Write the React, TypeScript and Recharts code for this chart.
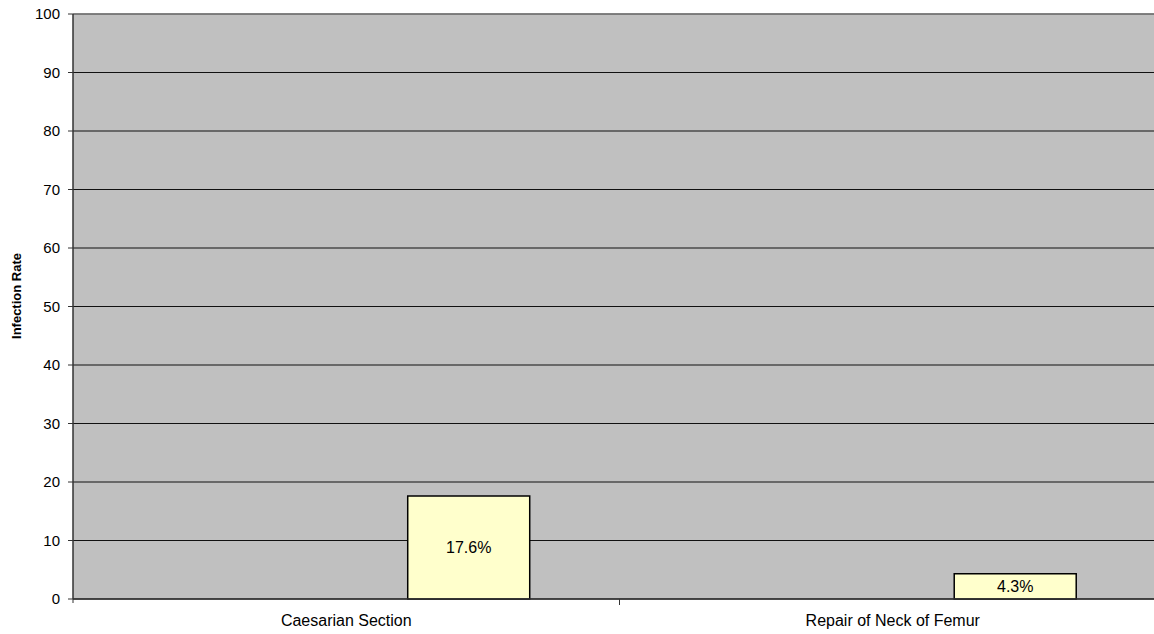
import React from 'react';
import { Bar, BarChart, CartesianGrid, LabelList, ReferenceLine, XAxis, YAxis } from 'recharts';

// the picture only shows the third series; the first two hold no data
const categories = ['Caesarian Section', 'Repair of Neck of Femur'];
const seriesA = [null, null];
const seriesB = [null, null];
const infectionRate = [17.6, 4.3];
const yTicks = [0, 10, 20, 30, 40, 50, 60, 70, 80, 90, 100];

const data = categories.map((name, i) => ({
  a: seriesA[i],
  b: seriesB[i],
  name,
  rate: infectionRate[i]
}));

const XTick = (props: any) => {
  const { x, y, payload, index } = props;
  const half = payload.offset || 0;

  return (
    <g>
      <line stroke='#333' x1={x + half} x2={x + half} y1={y} y2={y + 6} />
      {index === 0 && <line stroke='#333' x1={x - half} x2={x - half} y1={y} y2={y + 4} />}
      <text fill='#000' fontSize={16} textAnchor='middle' x={x} y={y + 27}>
        {payload.value}
      </text>
    </g>
  );
};

function App (): JSX.Element {
  return (
    <div style={{ background: '#fff', height: 634, left: 0, overflow: 'hidden', position: 'absolute', top: 0, width: 1154 }}>
      <BarChart
        barCategoryGap='16.6%'
        barGap={0}
        data={data}
        height={634}
        margin={{ bottom: 0, left: 0, right: 0, top: 14 }}
        style={{ fontFamily: 'Liberation Sans, Arial, sans-serif' }}
        width={1166}
      >
        <CartesianGrid fill='#C0C0C0' fillOpacity={1} stroke='#111' vertical={false} />
        <XAxis
          axisLine={{ stroke: '#333', strokeWidth: 1.5 }}
          dataKey='name'
          height={35}
          interval={0}
          tick={<XTick />}
          tickLine={false}
          tickMargin={0}
          tickSize={0}
        />
        <YAxis
          axisLine={{ stroke: '#333', strokeWidth: 1.5 }}
          domain={[0, 100]}
          label={{
            content: () => (
              <text
                dominantBaseline='central'
                fill='#000'
                fontSize={13}
                fontWeight='bold'
                textAnchor='middle'
                transform='rotate(-90 16 296)'
                x={16}
                y={296}
              >
                Infection Rate
              </text>
            )
          }}
          tick={{ fill: '#000', fontSize: 15 }}
          tickLine={{ stroke: '#333' }}
          tickMargin={8}
          tickSize={5}
          ticks={yTicks}
          width={73}
        />
        <ReferenceLine stroke='#808080' strokeWidth={1.5} y={100} />
        <Bar dataKey='a' fill='#9999FF' isAnimationActive={false} />
        <Bar dataKey='b' fill='#993366' isAnimationActive={false} />
        <Bar dataKey='rate' fill='#FFFFCC' isAnimationActive={false} stroke='#000' strokeWidth={1.5}>
          <LabelList
            dataKey='rate'
            fill='#000'
            fontSize={16}
            formatter={(v: any) => `${v}%`}
            position='center'
          />
        </Bar>
      </BarChart>
    </div>
  );
}

export default App;
